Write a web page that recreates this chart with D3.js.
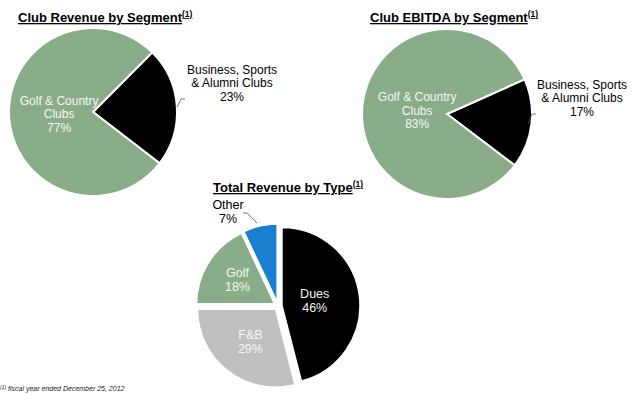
<!DOCTYPE html>
<html>
<head>
<meta charset="utf-8">
<script src="https://cdn.jsdelivr.net/npm/d3@7"></script>
<style>
  body { margin: 0; background: #fff; }
  svg text { font-family: "Liberation Sans", Arial, Helvetica, sans-serif; }
</style>
</head>
<body>
<svg id="chart"></svg>
<script>
// data
var revenueSegments = ['Business, Sports & Alumni Clubs', 'Golf & Country Clubs'];
var revenueValues = [23, 77];
var ebitdaSegments = ['Business, Sports & Alumni Clubs', 'Golf & Country Clubs'];
var ebitdaValues = [17, 83];
var typeCategories = ['Dues', 'F&B', 'Golf', 'Other'];
var typeValues = [46, 29, 18, 7];

var $svg = {width: 640, height: 395};
var $green = '#8aad89';
var $colors = {
    'Golf & Country Clubs': $green,
    'Business, Sports & Alumni Clubs': '#000000',
    'Dues': '#000000',
    'F&B': '#c0c0c0',
    'Golf': $green,
    'Other': '#1b7fcf'
};

function init () {
    $svg.main = (
        d3.select('svg#chart')
        .attr('width', $svg.width)
        .attr('height', $svg.height)
    );

    drawTitle(18, 22, 'Club Revenue by Segment');
    drawTitle(370, 22, 'Club EBITDA by Segment');
    drawTitle(213, 192, 'Total Revenue by Type');

    drawSegmentPie({
        cx: 93, cy: 112, r: 84, start: 44.8,
        names: revenueSegments, values: revenueValues,
        inner: {radius: 34, lines: ['Golf & Country', 'Clubs']},
        outer: {dx: 139, dy: -29, lines: ['Business, Sports', '& Alumni Clubs'],
                leader: [[84, -5], [88, -13], [92, -13]]}
    });
    drawSegmentPie({
        cx: 447, cy: 114, r: 85, start: 65.9,
        names: ebitdaSegments, values: ebitdaValues,
        inner: {radius: 30, lines: ['Golf & Country', 'Clubs']},
        outer: {dx: 135, dy: -16, lines: ['Business, Sports', '& Alumni Clubs'],
                leader: [[81, 10], [85, 0], [89, 0]]}
    });
    drawTypePie();
    drawFootnote();
}

function drawTitle (x, y, label) {
    var t = (
        $svg.main.append('text')
        .attr('x', x)
        .attr('y', y)
        .attr('font-size', 13)
        .attr('font-weight', 'bold')
        .attr('text-decoration', 'underline')
        .attr('fill', '#000')
    );
    t.append('tspan').text(label);
    t.append('tspan')
        .attr('font-size', 8.5)
        .attr('dy', -5)
        .text('(1)');
}

function multiLine (g, x, y, lines, color, size) {
    size = size || 12;
    var lh = size + 1.5;
    var t = (
        g.append('text')
        .attr('x', x)
        .attr('y', y)
        .attr('text-anchor', 'middle')
        .attr('font-size', size)
        .attr('fill', color)
    );
    var offset = -(lines.length - 1) * lh / 2;
    lines.forEach((line, i) => {
        t.append('tspan')
            .attr('x', x)
            .attr('dy', i === 0 ? offset + 4 : lh)
            .text(line);
    });
}

function drawSegmentPie (o) {
    var rad = Math.PI / 180;
    var data = o.names.map((n, i) => ({name: n, value: o.values[i]}));
    var pie = (
        d3.pie()
        .sort(null)
        .value(d => d.value)
        .startAngle(o.start * rad)
        .endAngle(o.start * rad + 2 * Math.PI)
    );
    var arc = d3.arc().innerRadius(0).outerRadius(o.r);
    var g = $svg.main.append('g').attr('transform', `translate(${o.cx},${o.cy})`);
    var arcs = pie(data);

    (
        g.selectAll('path.slice')
        .data(arcs)
        .join('path')
        .attr('class', 'slice')
        .attr('d', arc)
        .attr('fill', d => $colors[d.data.name])
        .attr('stroke', '#fff')
        .attr('stroke-width', 2)
        .attr('stroke-linejoin', 'miter')
    );

    // big green slice label
    var big = arcs[1];
    var labelArc = d3.arc().innerRadius(o.inner.radius).outerRadius(o.inner.radius);
    var [lx, ly] = labelArc.centroid(big);
    multiLine(g, lx, ly, o.inner.lines.concat([big.data.value + '%']), '#f4f6f2');

    // small black slice label, outside with leader
    var small = arcs[0];
    multiLine(g, o.outer.dx, o.outer.dy, o.outer.lines.concat([small.data.value + '%']), '#000');
    g.append('path')
        .attr('d', d3.line()(o.outer.leader))
        .attr('fill', 'none')
        .attr('stroke', '#555')
        .attr('stroke-width', 0.8);
}

function drawTypePie () {
    var cx = 278, cy = 306, r = 78, explode = 4;
    var data = typeCategories.map((n, i) => ({name: n, value: typeValues[i]}));
    var pie = d3.pie().sort(null).value(d => d.value);
    var arc = d3.arc().innerRadius(0).outerRadius(r);
    var g = $svg.main.append('g').attr('transform', `translate(${cx},${cy})`);
    var arcs = pie(data);

    function shift (d) {
        var a = (d.startAngle + d.endAngle) / 2;
        return [Math.sin(a) * explode, -Math.cos(a) * explode];
    }

    (
        g.selectAll('path.slice')
        .data(arcs)
        .join('path')
        .attr('class', 'slice')
        .attr('transform', d => `translate(${shift(d)})`)
        .attr('d', arc)
        .attr('fill', d => $colors[d.data.name])
        .attr('stroke', '#fff')
        .attr('stroke-width', 1.5)
    );

    var labelRadius = {'Dues': 33, 'F&B': 41, 'Golf': 44};
    arcs.forEach(d => {
        var name = d.data.name;
        if (name === 'Other') {
            multiLine(g, -50, -94, ['Other', d.data.value + '%'], '#000', 12.5);
            return;
        }
        var lr = labelRadius[name];
        var [lx, ly] = d3.arc().innerRadius(lr).outerRadius(lr).centroid(d);
        var [sx, sy] = shift(d);
        multiLine(g, lx + sx, ly + sy, [name, d.data.value + '%'],
                  name === 'F&B' ? '#f6f6f6' : '#f4f6f2', 12.5);
    });

    g.append('path')
        .attr('d', d3.line()([[-35, -93], [-31, -93], [-21, -83]]))
        .attr('fill', 'none')
        .attr('stroke', '#555')
        .attr('stroke-width', 0.8);
}

function drawFootnote () {
    var t = (
        $svg.main.append('text')
        .attr('x', 0)
        .attr('y', 391)
        .attr('font-size', 7)
        .attr('font-style', 'italic')
        .attr('fill', '#222')
    );
    t.append('tspan').attr('font-size', 5).attr('dy', -2).text('(1)');
    t.append('tspan').attr('dy', 2).text(' fiscal year ended December 25, 2012');
}

init();
</script>
</body>
</html>
